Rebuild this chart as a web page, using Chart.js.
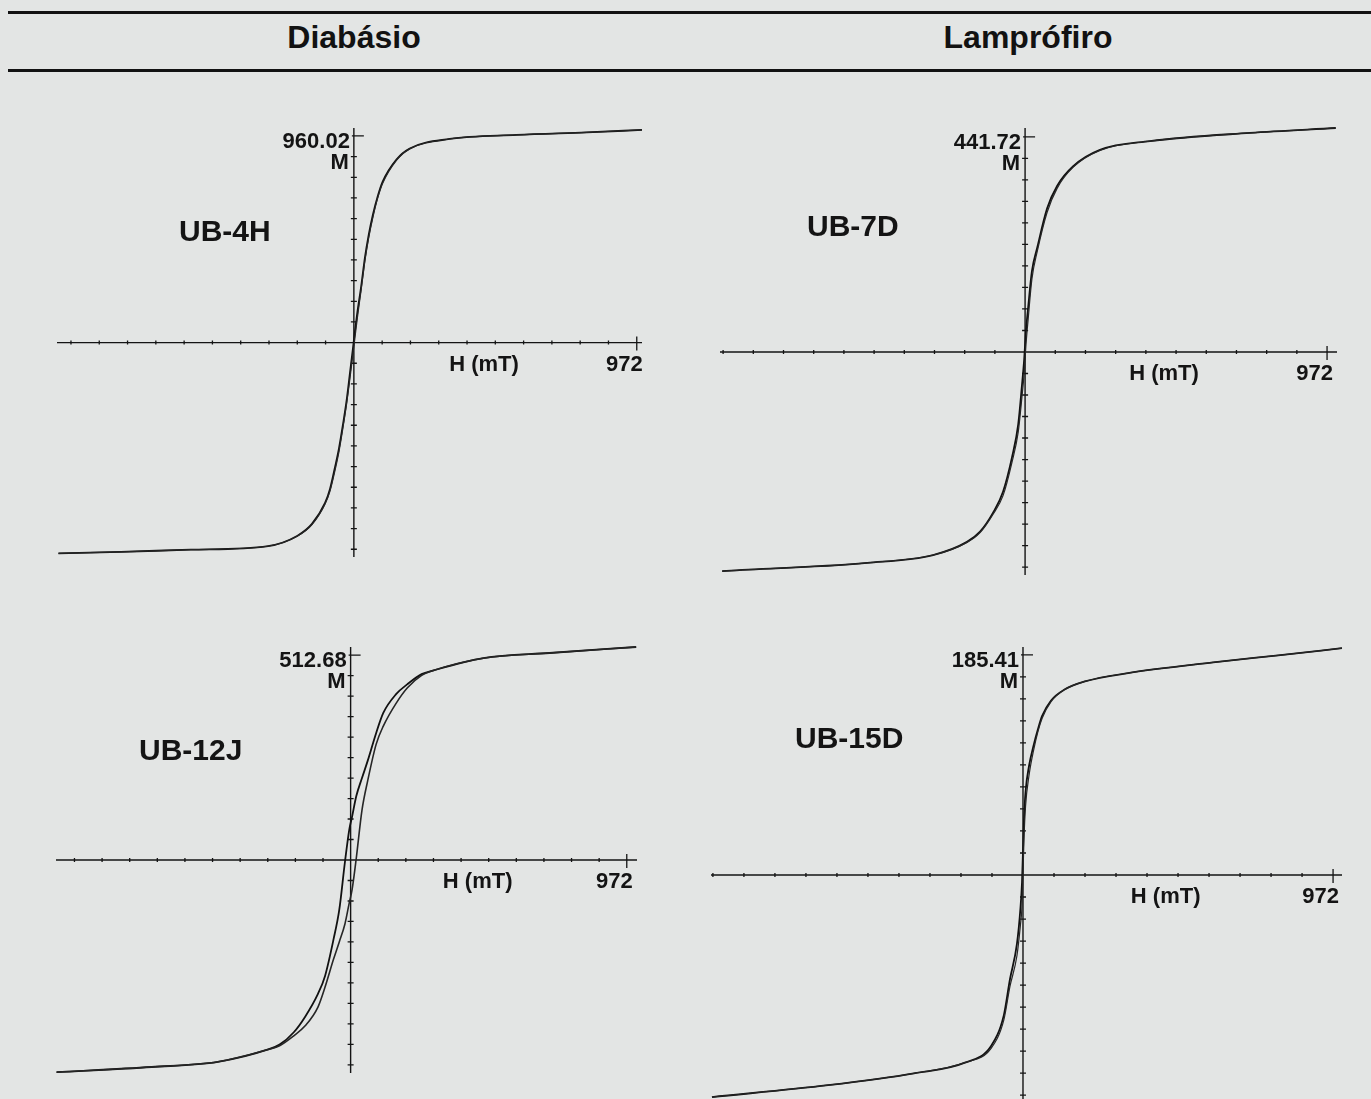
<!DOCTYPE html>
<html>
<head>
<meta charset="utf-8">
<title>Ciclos de histerese</title>
<script src="https://cdn.jsdelivr.net/npm/chart.js@4.4.1/dist/chart.umd.min.js"></script>
<style>
  html, body { margin: 0; padding: 0; width: 1371px; height: 1099px; overflow: hidden; background: #e3e5e4; }
  .rule { position: absolute; left: 8px; right: 0; height: 3px; background: #121212; }
  .group { position: absolute; top: 16px; width: 400px; margin-left: -200px; text-align: center;
           font: bold 32px "Liberation Sans", Arial, sans-serif; color: #121212; line-height: 42px; }
  canvas { position: absolute; left: 0; top: 0; }
</style>
</head>
<body>
<div class="rule" style="top:11px"></div>
<div class="rule" style="top:69px"></div>
<div class="group" id="g0" style="left:354px"></div>
<div class="group" id="g1" style="left:1028px"></div>
<canvas id="c0" width="1371" height="1110"></canvas>
<canvas id="c1" width="1371" height="1110"></canvas>
<canvas id="c2" width="1371" height="1110"></canvas>
<canvas id="c3" width="1371" height="1110"></canvas>
<script>
// Column headings and sample names
const groupTitles = ['Diabásio', 'Lamprófiro'];
const sampleNames = ['UB-4H', 'UB-7D', 'UB-12J', 'UB-15D'];
// Labels for the end tick of each axis
const mTickLabels = ['960.02', '441.72', '512.68', '185.41'];
const hTickLabel = '972';
const hAxisTitle = 'H (mT)';
const mAxisTitle = 'M';

// UB-4H: applied field (mT), descending and ascending branches of M
const ub4hField = [-1015, -800, -560, -295, -195, -144, -99, -82, -65, -51, -38, -25, -12, -3, 3, 12, 25, 38, 51, 65, 82, 99, 147, 192, 329, 559, 800, 990];
const ub4hDesc  = [-979, -972, -962, -945, -898, -842, -745, -680, -580, -490, -385, -270, -125, -25, 45, 140, 260, 395, 500, 592, 680, 748, 852, 902, 946, 965, 977, 988];
const ub4hAsc   = [-979, -972, -962, -946, -900, -846, -750, -690, -595, -505, -400, -285, -150, -50, 15, 115, 245, 380, 488, 580, 672, 740, 848, 900, 946, 965, 977, 988];

// UB-7D
const ub7dField = [-975, -508, -296, -187, -145, -103, -71, -42, -22, -10, -3, 3, 10, 22, 39, 71, 103, 154, 241, 402, 724, 1000];
const ub7dDesc  = [-450, -433, -417, -390, -369, -330, -287, -216, -148, -68, -16, 44, 92, 166, 214, 295, 341, 381, 415, 433, 450, 460];
const ub7dAsc   = [-450, -433, -417, -391, -371, -333, -295, -226, -164, -92, -44, 16, 68, 150, 206, 287, 336, 379, 414, 433, 450, 460];

// UB-12J
const ub12jField = [-1035, -700, -467, -290, -250, -200, -160, -115, -90, -60, -40, -20, -5, 5, 20, 40, 60, 90, 115, 160, 200, 250, 290, 467, 700, 1005];
const ub12jDesc  = [-531, -518, -505, -474, -462, -431, -392, -335, -290, -198, -125, -5, 75, 108, 160, 205, 248, 318, 368, 415, 440, 465, 474, 505, 518, 533];
const ub12jAsc   = [-531, -518, -505, -474, -465, -440, -415, -368, -318, -248, -205, -160, -108, -75, 5, 125, 198, 290, 335, 392, 431, 462, 474, 505, 518, 533];

// UB-15D
const ub15dField = [-975, -611, -342, -182, -100, -60, -41, -19, -8, -3, 3, 8, 19, 34, 47, 60, 88, 129, 194, 329, 596, 800, 1000];
const ub15dDesc  = [-187, -177, -167, -158, -144, -118, -88, -58, -28, -6, 46, 70, 92, 110, 123, 134, 147, 156, 163, 170, 179, 185, 191];
const ub15dAsc   = [-187, -177, -167, -158, -146, -122, -94, -68, -42, -26, 30, 58, 84, 106, 121, 132, 146, 156, 163, 170, 179, 185, 191];

const loops = [
  { field: ub4hField,  desc: ub4hDesc,  asc: ub4hAsc,  ascWidth: 1.2 },
  { field: ub7dField,  desc: ub7dDesc,  asc: ub7dAsc,  ascWidth: 1.2 },
  { field: ub12jField, desc: ub12jDesc, asc: ub12jAsc, ascWidth: 1.6 },
  { field: ub15dField, desc: ub15dDesc, asc: ub15dAsc, ascWidth: 1.2 }
];

// Plot frames on the page (pixels) and axis ranges
const frames = [
  { left: 57,  right: 642,  top: 128, bottom: 557,  xMin: -1020, xMax: 990,  yMin: -996, yMax: 997, nameX: 179, nameY: 233 },
  { left: 720, right: 1337, top: 128, bottom: 575,  xMin: -982,  xMax: 1004, yMin: -458, yMax: 460, nameX: 807, nameY: 228 },
  { left: 56,  right: 637,  top: 647, bottom: 1073, xMin: -1037, xMax: 1008, yMin: -533, yMax: 533, nameX: 139, nameY: 752 },
  { left: 711, right: 1342, top: 647, bottom: 1103, xMin: -978,  xMax: 1000, yMin: -192, yMax: 192, nameX: 795, nameY: 740 }
];

document.getElementById('g0').textContent = groupTitles[0];
document.getElementById('g1').textContent = groupTitles[1];

const INK = '#141414';
const LABEL_FONT = 'bold 22px "Liberation Sans", Arial, sans-serif';
const NAME_FONT = 'bold 30px "Liberation Sans", Arial, sans-serif';

// Cross-shaped axes through the origin, with tick marks and end labels
const loopAxes = {
  id: 'loopAxes',
  beforeDatasetsDraw(chart, args, opts) {
    const { ctx, chartArea: a } = chart;
    const xs = chart.scales.x, ys = chart.scales.y;
    const x0 = xs.getPixelForValue(0), y0 = ys.getPixelForValue(0);
    const hEnd = parseFloat(opts.hLabel), mEnd = parseFloat(opts.mLabel);
    ctx.save();
    ctx.strokeStyle = INK;
    ctx.lineWidth = 1.4;
    ctx.beginPath();
    ctx.moveTo(a.left, y0); ctx.lineTo(a.right, y0);
    ctx.moveTo(x0, a.top); ctx.lineTo(x0, a.bottom);
    ctx.stroke();
    ctx.lineWidth = 1.3;
    ctx.beginPath();
    for (let k = -10; k <= 10; k++) {
      if (k === 0) continue;
      const px = xs.getPixelForValue(k * hEnd / 10);
      if (k === 10) { ctx.moveTo(px, y0 - 6); ctx.lineTo(px, y0 + 8); }
      else { ctx.moveTo(px, y0 - 2); ctx.lineTo(px, y0 + 2); }
      const py = ys.getPixelForValue(k * mEnd / 10);
      if (py < a.top - 1 || py > a.bottom + 1) continue;
      if (k === 10) { ctx.moveTo(x0 - 2, py); ctx.lineTo(x0 + 10, py); }
      else { ctx.moveTo(x0 - 3, py); ctx.lineTo(x0 + 3, py); }
    }
    ctx.stroke();

    ctx.fillStyle = INK;
    ctx.font = LABEL_FONT;
    ctx.textBaseline = 'middle';
    const yTop = ys.getPixelForValue(mEnd);
    ctx.textAlign = 'right';
    ctx.fillText(opts.mLabel, x0 - 4, yTop + 6);
    ctx.fillText(mAxisTitle, x0 - 5, yTop + 27);
    const xEnd = xs.getPixelForValue(hEnd);
    ctx.fillText(opts.hLabel, xEnd + 6, y0 + 22);
    ctx.textAlign = 'center';
    ctx.fillText(hAxisTitle, xs.getPixelForValue(hEnd * 0.46), y0 + 22);

    ctx.font = NAME_FONT;
    ctx.textAlign = 'left';
    ctx.fillText(opts.name, opts.nameX, opts.nameY);
    ctx.restore();
  }
};

function toPoints(field, m) {
  return field.map((h, i) => ({ x: h, y: m[i] }));
}

frames.forEach((f, i) => {
  const canvas = document.getElementById('c' + i);
  const loop = loops[i];
  new Chart(canvas, {
    type: 'scatter',
    data: {
      datasets: [
        { data: toPoints(loop.field, loop.asc),  borderColor: '#262626', borderWidth: loop.ascWidth },
        { data: toPoints(loop.field, loop.desc), borderColor: '#111111', borderWidth: 1.8 }
      ].map(d => Object.assign(d, { showLine: true, pointRadius: 0, cubicInterpolationMode: 'monotone', clip: false, fill: false }))
    },
    options: {
      responsive: false,
      animation: false,
      devicePixelRatio: 1,
      layout: { padding: { left: f.left, right: canvas.width - f.right, top: f.top, bottom: canvas.height - f.bottom } },
      scales: {
        x: { type: 'linear', min: f.xMin, max: f.xMax, display: false },
        y: { type: 'linear', min: f.yMin, max: f.yMax, display: false }
      },
      plugins: {
        legend: { display: false },
        tooltip: { enabled: false },
        loopAxes: { mLabel: mTickLabels[i], hLabel: hTickLabel, name: sampleNames[i], nameX: f.nameX, nameY: f.nameY }
      }
    },
    plugins: [loopAxes]
  });
});
</script>
</body>
</html>
